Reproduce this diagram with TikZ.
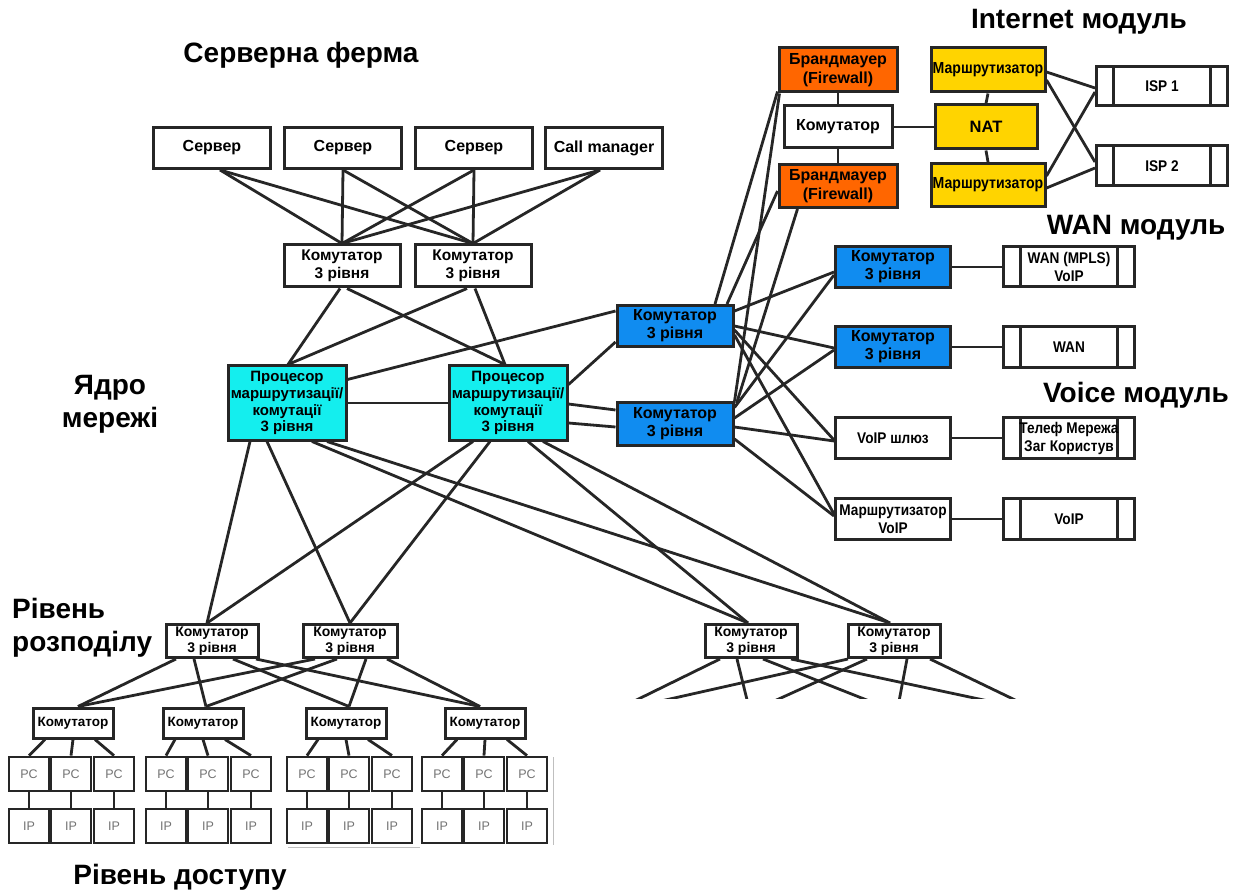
\documentclass[tikz,border=0pt]{standalone}
\usepackage{fontspec}
\setmainfont{Liberation Sans}
\newfontfamily\nrw[FakeStretch=0.88]{Liberation Sans}
\usetikzlibrary{calc}
\definecolor{cyanb}{RGB}{20,238,238}
\definecolor{blueb}{RGB}{16,140,240}
\definecolor{orangeb}{RGB}{255,102,0}
\definecolor{yellowb}{RGB}{255,212,0}
\definecolor{edge}{RGB}{38,38,38}
\pgfdeclarelayer{bg}
\pgfsetlayers{bg,main}
\tikzset{
  bx/.style={draw=edge, line width=3pt, fill=white, inner sep=0pt, align=center, text=black},
  ln/.style={draw=edge, line width=2.8pt},
  ttl/.style={font=\bfseries\fontsize{28}{33}\selectfont, align=center, inner sep=0pt},
  srv/.style={bx, minimum width=117, minimum height=41, font=\bfseries\fontsize{16}{18}\selectfont},
  swt/.style={bx, minimum width=116, minimum height=42, font=\bfseries\fontsize{15.5}{18}\selectfont},
  core/.style={bx, fill=cyanb, minimum width=118, minimum height=74, font=\bfseries\fontsize{15}{16.8}\selectfont},
  blu/.style={bx, fill=blueb, minimum width=116, minimum height=41, font=\bfseries\fontsize{16}{18}\selectfont},
  fw/.style={bx, fill=orangeb, minimum width=118, minimum height=44, font=\bfseries\fontsize{16}{19}\selectfont},
  yl/.style={bx, fill=yellowb, minimum width=114, minimum height=44, font=\nrw\bfseries\fontsize{16}{17}\selectfont},
  wh/.style={bx, minimum width=115, minimum height=41, font=\nrw\bfseries\fontsize{15.5}{18}\selectfont},
  isp/.style={bx, minimum width=131, minimum height=40, font=\nrw\bfseries\fontsize{15.5}{18}\selectfont,
    path picture={
      \draw[edge,line width=2.8pt] ([xshift=17pt]path picture bounding box.north west) -- ([xshift=17pt]path picture bounding box.south west);
      \draw[edge,line width=2.8pt] ([xshift=-17pt]path picture bounding box.north east) -- ([xshift=-17pt]path picture bounding box.south east);}},
  dst/.style={bx, minimum width=92, minimum height=33, font=\bfseries\fontsize{14}{15.5}\selectfont},
  acc/.style={bx, minimum width=80, minimum height=30, font=\bfseries\fontsize{13.5}{15}\selectfont},
  pcb/.style={draw=edge, line width=2.8pt, fill=white, minimum width=40, minimum height=34, inner sep=0pt, font=\fontsize{12.5}{14}\selectfont, text=black!55},
}
\begin{document}
\begin{tikzpicture}[x=1pt,y=-1pt]
\useasboundingbox (0,0) rectangle (1245,890);

% ---------- titles ----------
\node[ttl] (tsf) at (301,55) {Серверна ферма};
\node[ttl] (tin) at (1079,22) {Internet модуль};
\node[ttl] (twan) at (1136,228) {WAN модуль};
\node[ttl] (tvo) at (1136,395) {Voice модуль};
\node[ttl] (tcore) at (110,404) {Ядро\\мережі};
\node[ttl, align=left, anchor=west] (tdist) at (12,628) {Рівень\\розподілу};
\node[ttl] (tacc) at (180,877) {Рівень доступу};

% ---------- server farm ----------
\node[srv] (s1) at (212,148) {Сервер};
\node[srv] (s2) at (343,148) {Сервер};
\node[srv] (s3) at (474,148) {Сервер};
\node[srv] (cm) at (604,148) {Call manager};
\node[swt] (sw1) at (342,266) {Комутатор\\3 рівня};
\node[swt] (sw2) at (473,266) {Комутатор\\3 рівня};

% ---------- core ----------
\node[core] (p1) at (287,403) {Процесор\\маршрутизації/\\комутації\\3 рівня};
\node[core] (p2) at (508,403) {Процесор\\маршрутизації/\\комутації\\3 рівня};
\node[blu] (b1) at (675,326) {Комутатор\\3 рівня};
\node[blu, minimum height=42] (b2) at (675,424) {Комутатор\\3 рівня};

% ---------- internet module ----------
\node[fw] (fw1) at (838,70) {Брандмауер\\(Firewall)};
\node[bx, minimum width=108, minimum height=42, font=\bfseries\fontsize{16}{18}\selectfont] (ks) at (838,127) {Комутатор};
\node[fw, minimum height=43] (fw2) at (838,186) {Брандмауер\\(Firewall)};
\node[yl] (r1) at (988,70) {Маршрутизатор};
\node[yl, minimum width=102, font=\bfseries\fontsize{16.5}{18}\selectfont] (nat) at (986,127) {NAT};
\node[yl, minimum height=43] (r2) at (988,185) {Маршрутизатор};
\node[isp, minimum height=39] (isp1) at (1162,86) {ISP 1};
\node[isp] (isp2) at (1162,166) {ISP 2};

% ---------- WAN / voice ----------
\node[blu, minimum width=115] (b3) at (893,267) {Комутатор\\3 рівня};
\node[blu, minimum width=115] (b4) at (893,347) {Комутатор\\3 рівня};
\node[isp] (wan1) at (1069,267) {WAN (MPLS)\\VoIP};
\node[isp, minimum height=41] (wan2) at (1069,347) {WAN};
\node[wh] (vg) at (893,438) {VoIP шлюз};
\node[isp, minimum height=41] (tel) at (1069,438) {Телеф Мережа\\Заг Користув};
\node[wh] (rv) at (893,519) {Маршрутизатор\\VoIP};
\node[isp, minimum height=41] (voip) at (1069,519) {VoIP};

% ---------- distribution ----------
\node[dst] (d1) at (212,641) {Комутатор\\3 рівня};
\node[dst, minimum width=94] (d2) at (350,641) {Комутатор\\3 рівня};
\node[dst] (d3) at (751,641) {Комутатор\\3 рівня};
\node[dst] (d4) at (894,641) {Комутатор\\3 рівня};
\coordinate (h1) at (612,712);
\coordinate (h2) at (750,712);
\coordinate (h3) at (897,712);
\coordinate (h4) at (1040,712);

% ---------- access ----------
\foreach \n/\ax/\gx in {1/73/71, 2/203/208, 3/346/349, 4/485/484}{
  \node[acc] (a\n) at (\ax,723) {Комутатор};
  \node[pcb] (pc\n a) at (\gx-42,774) {PC};
  \node[pcb] (pc\n b) at (\gx,774) {PC};
  \node[pcb] (pc\n c) at (\gx+43,774) {PC};
  \node[pcb] (ip\n a) at (\gx-42,826) {IP};
  \node[pcb] (ip\n b) at (\gx,826) {IP};
  \node[pcb] (ip\n c) at (\gx+43,826) {IP};
}

\begin{pgfonlayer}{bg}
% server farm
\foreach \s/\o in {s1/8, s2/0, s3/0, cm/-4}{
  \draw[ln] ($(\s.south)+(\o,0)$) -- (sw1.north);
  \draw[ln] ($(\s.south)+(\o,0)$) -- (sw2.north);
}
% server switches to core
\draw[ln] ($(sw1.south)+(-2,0)$) -- ($(p1.north)+(1,0)$);
\draw[ln] ($(sw1.south)+(5,0)$) -- ($(p2.north)+(-3,0)$);
\draw[ln] ($(sw2.south)+(-6,0)$) -- ($(p1.north)+(1,0)$);
\draw[ln] ($(sw2.south)+(2,0)$) -- ($(p2.north)+(-3,0)$);
% core links
\draw[ln] (p1.east) -- (p2.west);
\draw[ln] ($(p1.north east)+(0,15)$) -- ($(b1.north west)+(0,7)$);
\draw[ln] ($(p2.north east)+(0,20)$) -- ($(b1.south west)+(0,-6)$);
\draw[ln] ($(p2.east)+(0,1)$) -- ($(b2.west)+(0,-14)$);
\draw[ln] ($(p2.east)+(0,20)$) -- ($(b2.west)+(0,3)$);
% core to distribution
\draw[ln] ($(p1.south)+(-37,0)$) -- ($(d1.north)+(-5,0)$);
\draw[ln] ($(p1.south)+(-20,0)$) -- (d2.north);
\draw[ln] ($(p1.south)+(25,0)$) -- ($(d3.north)+(-3,0)$);
\draw[ln] ($(p1.south)+(40,0)$) -- ($(d4.north)+(-4,0)$);
\draw[ln] ($(p2.south)+(-35,0)$) -- ($(d1.north)+(-5,0)$);
\draw[ln] ($(p2.south)+(-18,0)$) -- (d2.north);
\draw[ln] ($(p2.south)+(20,0)$) -- ($(d3.north)+(-3,0)$);
\draw[ln] ($(p2.south)+(35,0)$) -- ($(d4.north)+(-4,0)$);
% blue switches to firewalls
\draw[ln] ($(b1.north)+(40,0)$) -- ($(fw1.south west)+(0,-2)$);
\draw[ln] ($(b1.north)+(52,0)$) -- ($(fw2.west)+(0,5)$);
\draw[ln] (b2.north east) -- ($(fw1.south west)+(2,0)$);
\draw[ln] ($(b2.north east)+(2,2)$) -- ($(fw2.south west)+(20,0)$);
% blue switches to WAN / voice
\draw[ln] ($(b1.north east)+(0,7)$) -- ($(b3.west)+(0,5)$);
\draw[ln] ($(b1.east)+(0,0)$) -- ($(b4.west)+(0,1)$);
\draw[ln] ($(b1.east)+(0,4)$) -- ($(vg.west)+(0,2)$);
\draw[ln] ($(b1.east)+(0,9)$) -- ($(rv.west)+(0,-5)$);
\draw[ln] ($(b2.north east)+(0,6)$) -- ($(b3.west)+(0,8)$);
\draw[ln] ($(b2.east)+(0,-6)$) -- ($(b4.west)+(0,3)$);
\draw[ln] ($(b2.east)+(0,3)$) -- ($(vg.west)+(0,3)$);
\draw[ln] ($(b2.east)+(0,15)$) -- ($(rv.west)+(0,-3)$);
% internet module
\draw[ln] (fw1.south) -- (ks.north);
\draw[ln] (ks.south) -- (fw2.north);
\draw[ln] (ks.east) -- (nat.west);
\draw[ln] (r1.south) -- (nat.north);
\draw[ln] (nat.south) -- (r2.north);
\draw[ln] ($(r1.east)+(0,2)$) -- ($(isp1.west)+(0,2)$);
\draw[ln] ($(r1.east)+(0,10)$) -- ($(isp2.west)+(0,-4)$);
\draw[ln] ($(r2.east)+(0,-9)$) -- ($(isp1.west)+(0,6)$);
\draw[ln] ($(r2.east)+(0,3)$) -- ($(isp2.west)+(0,2)$);
% WAN / voice module
\draw[ln] (b3.east) -- (wan1.west);
\draw[ln] (b4.east) -- (wan2.west);
\draw[ln] (vg.east) -- (tel.west);
\draw[ln] (rv.east) -- (voip.west);
% distribution to access
\foreach \d/\oa/\ob/\oc/\od in {d1/-36/-18/21/44, d2/-35/-13/16/37}{
  \draw[ln] ($(\d.south)+(\oa,0)$) -- ($(a1.north)+(5,0)$);
  \draw[ln] ($(\d.south)+(\ob,0)$) -- ($(a2.north)+(3,0)$);
  \draw[ln] ($(\d.south)+(\oc,0)$) -- ($(a3.north)+(3,0)$);
  \draw[ln] ($(\d.south)+(\od,0)$) -- ($(a4.north)+(-5,0)$);
}
\begin{scope}
  \clip (560,600) rectangle (1245,698);
  \foreach \d/\oa/\ob/\oc/\od in {d3/-31/-14/12/40, d4/-46/-27/13/36}{
    \draw[ln] ($(\d.south)+(\oa,0)$) -- (h1);
    \draw[ln] ($(\d.south)+(\ob,0)$) -- (h2);
    \draw[ln] ($(\d.south)+(\oc,0)$) -- (h3);
    \draw[ln] ($(\d.south)+(\od,0)$) -- (h4);
  }
\end{scope}
% access to PC and IP
\foreach \n in {1,2,3,4}{
  \draw[ln] ($(a\n.south)+(-28,0)$) -- (pc\n a.north);
  \draw[ln] (a\n.south) -- (pc\n b.north);
  \draw[ln] ($(a\n.south)+(22,0)$) -- (pc\n c.north);
  \draw[ln] (pc\n a.south) -- (ip\n a.north);
  \draw[ln] (pc\n b.south) -- (ip\n b.north);
  \draw[ln] (pc\n c.south) -- (ip\n c.north);
}
% faint scan edges
\draw[black!25, line width=1pt] (288,847) -- (420,847);
\draw[black!25, line width=1pt] (553,757) -- (553,845);
\end{pgfonlayer}
\end{tikzpicture}
\end{document}
